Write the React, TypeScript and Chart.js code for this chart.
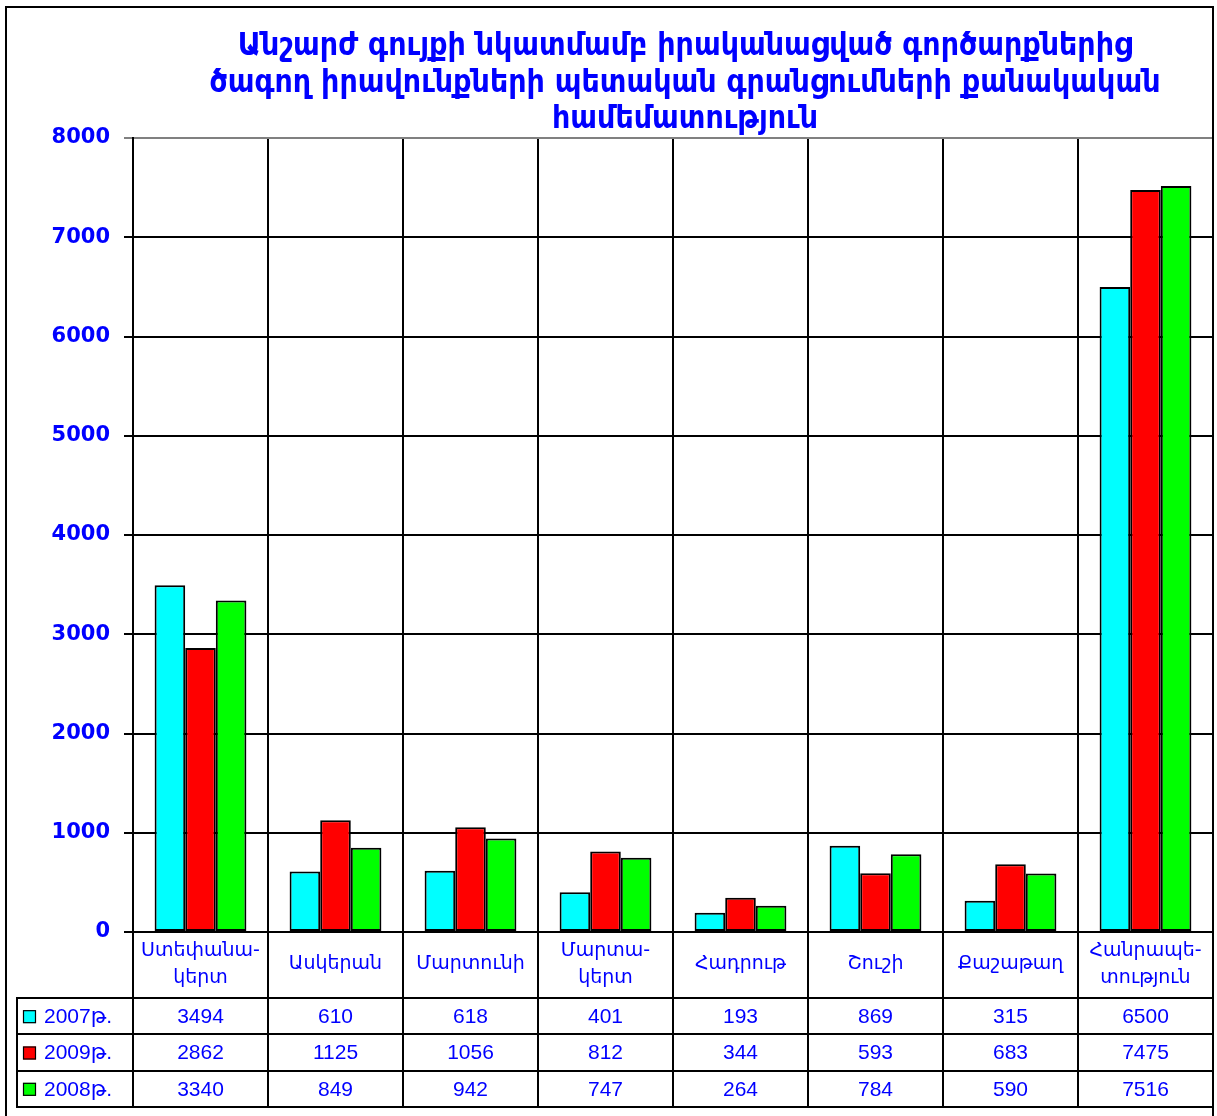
import React, { useEffect, useRef } from 'react';
import { Chart, registerables } from 'chart.js';

Chart.register(...registerables);

const titleLines: string[] = [
  'Անշարժ գույքի նկատմամբ իրականացված գործարքներից',
  'ծագող իրավունքների պետական գրանցումների քանակական',
  'համեմատություն',
];

const categories: (string | string[])[] = [
  ['Ստեփանա-', 'կերտ'],
  'Ասկերան',
  'Մարտունի',
  ['Մարտա-', 'կերտ'],
  'Հադրութ',
  'Շուշի',
  'Քաշաթաղ',
  ['Հանրապե-', 'տություն'],
];

const seriesNames: string[] = ['2007թ.', '2009թ.', '2008թ.'];
const values2007: number[] = [3494, 610, 618, 401, 193, 869, 315, 6500];
const values2009: number[] = [2862, 1125, 1056, 812, 344, 593, 683, 7475];
const values2008: number[] = [3340, 849, 942, 747, 264, 784, 590, 7516];
const seriesColors: string[] = ['#00FFFF', '#FF0000', '#00FF00'];

const yMin = 0;
const yMax = 8000;
const yStep = 1000;

const BLUE = '#0000FF';

const tablePlugin = {
  id: 'dataTable',
  afterDraw(chart: any) {
    const ctx = chart.ctx as CanvasRenderingContext2D;
    const x = chart.scales.x;
    const area = chart.chartArea;
    const n = categories.length;
    const cw = (area.right - area.left) / n;
    const top = area.bottom;
    const labelBottom = top + 66;
    const tableBottom = x.bottom;
    const rowH = (tableBottom - labelBottom) / 3;
    const legendLeft = 17;

    ctx.save();
    ctx.strokeStyle = '#000';
    ctx.lineWidth = 2;
    // horizontal lines
    for (let r = 0; r <= 3; r++) {
      const y = Math.round(labelBottom + r * rowH);
      ctx.beginPath();
      ctx.moveTo(legendLeft - 1, y);
      ctx.lineTo(area.right, y);
      ctx.stroke();
    }
    // vertical lines
    for (let i = 0; i <= n; i++) {
      const xx = Math.round(area.left + i * cw);
      ctx.beginPath();
      ctx.moveTo(xx, top);
      ctx.lineTo(xx, tableBottom + 1);
      ctx.stroke();
    }
    ctx.beginPath();
    ctx.moveTo(legendLeft, labelBottom);
    ctx.lineTo(legendLeft, tableBottom + 1);
    ctx.stroke();

    // values and legend
    const datasets = chart.data.datasets;
    ctx.textBaseline = 'middle';
    for (let r = 0; r < datasets.length; r++) {
      const cy = labelBottom + r * rowH + rowH / 2 + 1;
      ctx.font = '21px "Liberation Sans", "DejaVu Sans", sans-serif';
      ctx.fillStyle = BLUE;
      ctx.textAlign = 'center';
      const data = datasets[r].data as number[];
      for (let i = 0; i < n; i++) {
        ctx.fillText(String(data[i]), x.getPixelForTick(i), cy);
      }
      // legend key
      ctx.fillStyle = datasets[r].backgroundColor;
      ctx.fillRect(23, cy - 7, 13, 13);
      ctx.lineWidth = 1.2;
      ctx.strokeRect(23.5, cy - 6.5, 12, 12);
      ctx.lineWidth = 2;
      ctx.fillStyle = BLUE;
      ctx.textAlign = 'left';
      ctx.fillText(datasets[r].label, 44, cy);
    }

    // title
    ctx.font = 'bold 31.7px "DejaVu Sans Condensed", "DejaVu Sans", sans-serif';
    ctx.fillStyle = BLUE;
    ctx.textAlign = 'center';
    const tys = [47, 84, 120];
    titleLines.forEach((t, i) => ctx.fillText(t, 685, tys[i]));

    // outer frame
    ctx.strokeStyle = '#000';
    ctx.lineWidth = 2;
    ctx.strokeRect(6, 7, 1207, 1120);
    ctx.restore();
  },
};

export default function App() {
  const ref = useRef<HTMLCanvasElement | null>(null);
  useEffect(() => {
    if (!ref.current) return;
    const chart = new Chart(ref.current, {
      type: 'bar',
      data: {
        labels: categories as any,
        datasets: [
          { label: seriesNames[0], data: values2007, backgroundColor: seriesColors[0] },
          { label: seriesNames[1], data: values2009, backgroundColor: seriesColors[1] },
          { label: seriesNames[2], data: values2008, backgroundColor: seriesColors[2] },
        ].map((d) => ({
          ...d,
          borderColor: '#000',
          borderWidth: 2,
          borderSkipped: false,
          categoryPercentage: 0.68,
          barPercentage: 1,
        })),
      },
      options: {
        responsive: false,
        animation: false,
        layout: { padding: { top: 138, right: 4, bottom: 9, left: 0 } },
        plugins: {
          legend: { display: false },
          title: { display: false },
          tooltip: { enabled: false },
        },
        scales: {
          x: {
            afterFit: (s: any) => {
              s.height = 175;
              s.paddingLeft = 0;
              s.paddingRight = 0;
            },
            grid: {
              offset: true,
              color: '#000',
              lineWidth: 2,
              drawTicks: false,
              tickLength: 0,
            },
            border: { display: true, color: '#000', width: 2 },
            ticks: {
              color: BLUE,
              font: { family: '"DejaVu Sans", sans-serif', size: 19, lineHeight: 1.42 },
              padding: 19,
              maxRotation: 0,
              autoSkip: false,
              crossAlign: 'center',
            },
          },
          y: {
            min: yMin,
            max: yMax,
            afterFit: (s: any) => {
              s.width = 133;
            },
            grid: {
              color: (c: any) => (c.tick && c.tick.value === yMax ? '#808080' : '#000'),
              lineWidth: 2,
              tickLength: 9,
            },
            border: { display: true, color: '#000', width: 2 },
            ticks: {
              stepSize: yStep,
              color: BLUE,
              font: { family: '"DejaVu Sans", sans-serif', size: 21, weight: 'bold' },
              padding: 14,
              callback: (v: any) => String(v),
            },
          },
        },
      },
      plugins: [tablePlugin],
    } as any);
    return () => chart.destroy();
  }, []);
  return (
    <div style={{ position: 'absolute', left: 0, top: 0, width: 1217, height: 1116, background: '#fff' }}>
      <canvas ref={ref} width={1217} height={1116} style={{ display: 'block' }} />
    </div>
  );
}
